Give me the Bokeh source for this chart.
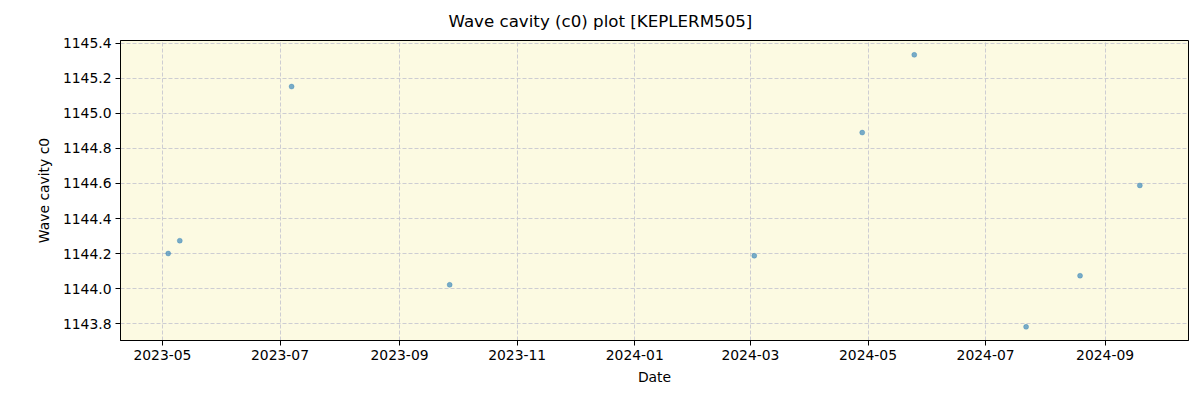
from datetime import datetime
from bokeh.plotting import figure
from bokeh.models import (FixedTicker, PrintfTickFormatter, DatetimeTickFormatter,
                          MonthsTicker, Range1d, Title)
from bokeh.embed import file_html
from bokeh.resources import INLINE

dates = ["2023-05-04", "2023-05-10", "2023-07-07", "2023-09-27", "2024-03-03",
         "2024-04-28", "2024-05-25", "2024-07-22", "2024-08-19", "2024-09-19"]
c0 = [1144.200, 1144.273, 1145.154, 1144.021, 1144.187,
      1144.891, 1145.335, 1143.781, 1144.073, 1144.589]
y_ticks = [1143.8, 1144.0, 1144.2, 1144.4, 1144.6, 1144.8, 1145.0, 1145.2, 1145.4]

x = [datetime.strptime(d, "%Y-%m-%d") for d in dates]

FONT = "DejaVu Sans"

p = figure(width=1196, height=396, x_axis_type="datetime",
           output_backend="svg", toolbar_location=None,
           min_border_left=120, min_border_right=8,
           min_border_top=40, min_border_bottom=56)
p.title = None
t = Title(text="Wave cavity (c0) plot [KEPLERM505]", align="left",
          offset=328, text_font=FONT, text_font_size="16.67px",
          text_font_style="normal", text_color="black", standoff=19)
p.add_layout(t, "above")

p.x_range = Range1d(datetime(2023, 4, 9, 6), datetime(2024, 10, 14, 6))
p.y_range = Range1d(1143.703, 1145.417)

p.background_fill_color = "#fcfae2"
p.border_fill_color = "white"
p.outline_line_color = "black"
p.outline_line_width = 1
p.outline_line_alpha = 1

p.scatter(x, c0, size=5, fill_color="#1f77b4", fill_alpha=0.6,
          line_color="#1f77b4", line_alpha=0.3)

p.xaxis.ticker = MonthsTicker(months=[0, 2, 4, 6, 8, 10])
p.xaxis.formatter = DatetimeTickFormatter(months="%Y-%m", days="%Y-%m", years="%Y-%m")
p.yaxis.ticker = FixedTicker(ticks=y_ticks)
p.yaxis.formatter = PrintfTickFormatter(format="%.1f")

for ax in (p.xaxis[0], p.yaxis[0]):
    ax.major_tick_in = 0
    ax.major_tick_out = 5
    ax.minor_tick_in = 0
    ax.minor_tick_out = 0
    ax.axis_line_color = "black"
    ax.major_tick_line_color = "black"
    ax.major_label_text_font = FONT
    ax.major_label_text_font_size = "13.9px"
    ax.major_label_text_color = "black"
    ax.axis_label_text_font = FONT
    ax.axis_label_text_font_size = "13.9px"
    ax.axis_label_text_font_style = "normal"
    ax.axis_label_text_color = "black"

p.xaxis.axis_label = "Date"
p.yaxis.axis_label = "Wave cavity c0"
p.xaxis.major_label_standoff = 4
p.yaxis.major_label_standoff = 4
p.xaxis.axis_label_standoff = 6
p.yaxis.axis_label_standoff = 8

p.grid.grid_line_color = "#c8c8d0"
p.grid.grid_line_dash = "4 2"
p.grid.grid_line_width = 1
p.grid.grid_line_alpha = 0.9

open("out.html", "w").write(file_html(p, INLINE))
